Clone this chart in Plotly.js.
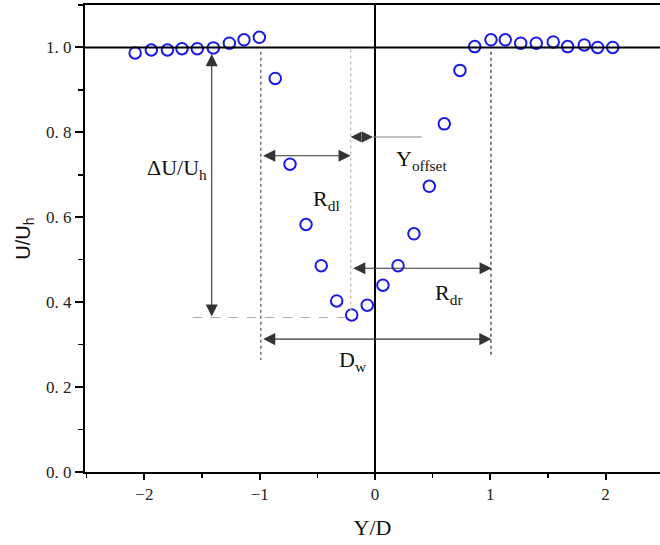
<!DOCTYPE html>
<html>
<head>
<meta charset="utf-8">
<script src="https://cdn.plot.ly/plotly-3.0.1.min.js"></script>
<style>html,body{margin:0;padding:0;background:#fff;}#chart{width:660px;height:545px;}</style>
</head>
<body>
<div id="chart"></div>
<script>
// Data
const yOverD = [-2.08, -1.94, -1.80, -1.674, -1.541, -1.402, -1.263, -1.136, -1.003, -0.865,
                -0.737, -0.598, -0.466, -0.332, -0.202, -0.067, 0.069, 0.200,
                0.338, 0.471, 0.601, 0.737, 0.865, 1.006, 1.130, 1.264, 1.399, 1.546, 1.671, 1.815, 1.931, 2.062];
const uOverUh = [0.987, 0.994, 0.994, 0.997, 0.997, 0.999, 1.010, 1.018, 1.024, 0.927,
                 0.725, 0.583, 0.486, 0.403, 0.370, 0.393, 0.440, 0.486,
                 0.561, 0.673, 0.820, 0.946, 1.002, 1.018, 1.018, 1.010, 1.010, 1.013, 1.002, 1.006, 1.000, 1.000];
const yTickVals = [0, 0.2, 0.4, 0.6, 0.8, 1.0];
const yTickText = ['0. 0', '0. 2', '0. 4', '0. 6', '0. 8', '1. 0'];
const xTickVals = [-2, -1, 0, 1, 2];
const xTickText = ['\u22122', '\u22121', '0', '1', '2'];

const serif = 'Liberation Serif, Times New Roman, serif';

const trace = {
  x: yOverD, y: uOverUh, type: 'scatter', mode: 'markers',
  marker: {symbol: 'circle-open', size: 11.5, color: '#1a1ae8', line: {width: 2, color: '#1a1ae8'}},
  hoverinfo: 'skip', showlegend: false
};

function vline(x, y0, y1, color, dash, w) {
  return {type: 'line', xref: 'x', yref: 'y', x0: x, x1: x, y0: y0, y1: y1,
          line: {color: color, width: w || 1.2, dash: dash}};
}
function hline(y, x0, x1, color, dash, w) {
  return {type: 'line', xref: 'x', yref: 'y', x0: x0, x1: x1, y0: y, y1: y,
          line: {color: color, width: w || 1.2, dash: dash}};
}
function dblArrow(x0, y0, x1, y1) {
  return {x: x1, y: y1, ax: x0, ay: y0, xref: 'x', yref: 'y', axref: 'x', ayref: 'y',
          text: '', showarrow: true, arrowside: 'end+start', arrowhead: 2, startarrowhead: 2,
          arrowsize: 2.2, startarrowsize: 2.2, arrowwidth: 1.1, arrowcolor: '#333', standoff: 0, startstandoff: 0};
}
function oneArrow(x0, y0, x1, y1) {
  return {x: x1, y: y1, ax: x0, ay: y0, xref: 'x', yref: 'y', axref: 'x', ayref: 'y',
          text: '', showarrow: true, arrowhead: 2, arrowsize: 2.0, arrowwidth: 1.1,
          arrowcolor: '#333', standoff: 0};
}
function label(x, y, txt) {
  return {x: x, y: y, xref: 'x', yref: 'y', text: txt, showarrow: false,
          font: {family: serif, size: 22, color: '#111'}};
}

const shapes = [
  hline(1.0, -2.515, 2.472, '#000', 'solid', 2),
  vline(-0.99, 0.99, 0.264, '#666', 'dot', 1.4),
  vline(-0.211, 0.995, 0.377, '#bbb', 'dot', 1.3),
  vline(1.006, 0.99, 0.27, '#555', 'dot', 1.5),
  hline(0.364, -1.58, -0.243, '#aaa', 'dash', 1.1),
  hline(0.789, -0.017, 0.405, '#888', 'solid', 1.1)
];

const annotations = [
  dblArrow(-1.416, 0.988, -1.416, 0.366),
  dblArrow(-0.983, 0.745, -0.211, 0.745),
  oneArrow(-0.105, 0.789, -0.211, 0.789),
  oneArrow(-0.11, 0.789, -0.017, 0.789),
  dblArrow(-0.202, 0.480, 1.012, 0.480),
  dblArrow(-0.983, 0.313, 1.010, 0.313),
  label(-1.72, 0.713, '\u0394U/U<sub>h</sub>'),
  label(-0.42, 0.64, 'R<sub>dl</sub>'),
  label(0.40, 0.735, 'Y<sub>offset</sub>'),
  label(0.64, 0.42, 'R<sub>dr</sub>'),
  label(-0.19, 0.262, 'D<sub>w</sub>')
];

const layout = {
  width: 660, height: 545,
  margin: {l: 85, r: 0, t: 5, b: 73},
  paper_bgcolor: '#fff', plot_bgcolor: '#fff',
  showlegend: false,
  xaxis: {
    range: [-2.515, 2.472], showgrid: false,
    zeroline: true, zerolinecolor: '#000', zerolinewidth: 2,
    showline: true, linecolor: '#000', linewidth: 2, mirror: true,
    ticks: 'outside', ticklen: 6, tickwidth: 2, tickcolor: '#000',
    tickvals: xTickVals, ticktext: xTickText,
    minor: {ticks: 'outside', dtick: 0.5, tick0: 0, ticklen: 4, tickwidth: 1.5, tickcolor: '#000', showgrid: false},
    tickfont: {family: serif, size: 17, color: '#222'},
    title: {text: 'Y/D', font: {family: serif, size: 22, color: '#111'}, standoff: 16}
  },
  yaxis: {
    range: [0, 1.1], showgrid: false, zeroline: false,
    showline: true, linecolor: '#000', linewidth: 2, mirror: false,
    ticks: 'outside', ticklen: 8, tickwidth: 2, tickcolor: '#000',
    tickvals: yTickVals, ticktext: yTickText,
    minor: {ticks: 'outside', dtick: 0.1, tick0: 0, ticklen: 5, tickwidth: 1.5, tickcolor: '#000', showgrid: false},
    tickfont: {family: serif, size: 17, color: '#222'},
    title: {text: 'U/U<sub>h</sub>', font: {family: 'Liberation Sans, Arial, sans-serif', size: 20, color: '#111'}, standoff: 10}
  },
  shapes: shapes,
  annotations: annotations
};

Plotly.newPlot('chart', [trace], layout, {displayModeBar: false, staticPlot: true});
</script>
</body>
</html>
